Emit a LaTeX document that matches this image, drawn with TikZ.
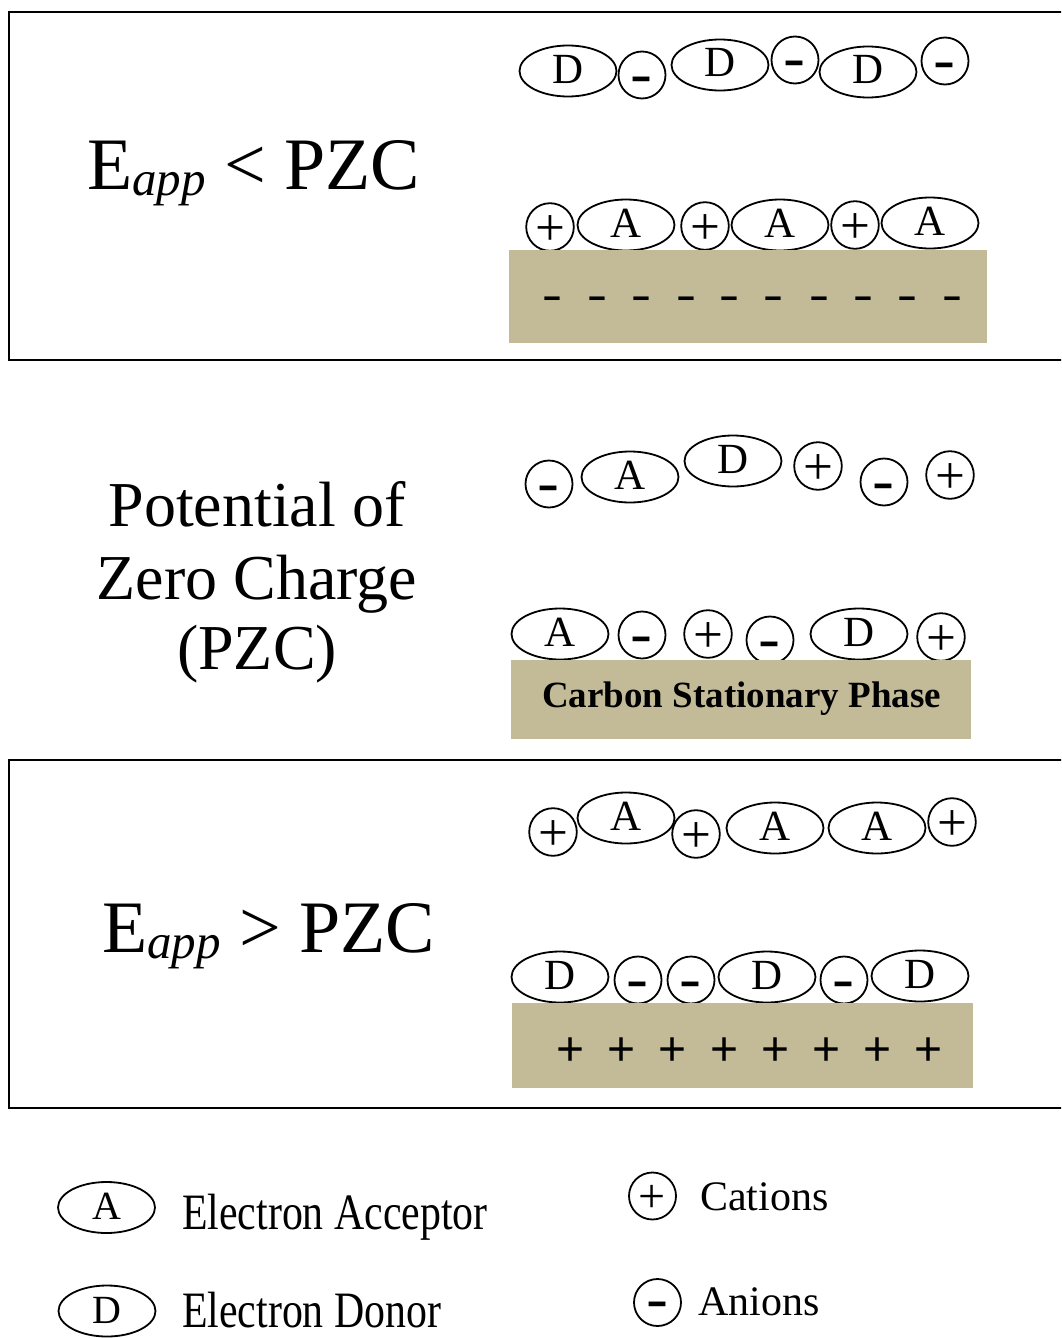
\documentclass[tikz,border=0pt]{standalone}
\usepackage{fontspec}
\setmainfont{Liberation Serif}
\newfontfamily\arialfont{Liberation Sans}
\usepackage{graphicx}
\usetikzlibrary{shapes.geometric}

\definecolor{carbon}{RGB}{195,187,152}

\newcommand\fs[1]{\fontsize{#1}{#1}\selectfont}
% charge glyphs
\newcommand\anionsign{\scalebox{1.7}[1]{\arialfont\bfseries\fs{39}-}}
\newcommand\surfminus{\scalebox{2}[1]{\arialfont\bfseries\fs{30}-}}
\newcommand\surfplus{{\arialfont\fs{48}+}}

\tikzset{
  particle/.style={draw, line width=1.8pt, inner sep=0pt},
  acc/.style={particle, ellipse, minimum width=97pt, minimum height=51pt,
    font=\fs{43}, text height=30pt, text depth=6pt},
  cation/.style={particle, circle, minimum size=47pt, font=\fs{53},
    text height=37pt, text depth=0pt},
  anion/.style={particle, circle, minimum size=47pt,
    text height=28pt, text depth=0pt},
  frame/.style={draw, line width=2.6pt},
  bed/.style={fill=carbon},
  charge/.style={inner sep=0pt, anchor=base},
  big/.style={inner sep=0pt, anchor=base west, font=\fs{74}},
  pzc/.style={inner sep=0pt, anchor=base, font=\fs{64}},
  legtext/.style={inner sep=0pt, anchor=base west},
}

\begin{document}
\begin{tikzpicture}[x=1pt,y=-1pt]
\useasboundingbox (0,0) rectangle (1061,1338);
\begin{scope}
\clip (0,0) rectangle (1061,1338);

% panel frames
\draw[frame] (9,12) rectangle (1075,360);
\draw[frame] (9,760) rectangle (1075,1108);

% ---------- E_app < PZC ----------
\node[big] (ltlabel) at (87,189) {E\raisebox{-6pt}{\fs{49}\itshape app} < PZC};

\node[acc]    (t1) at (568,71) {D};
\node[anion]  (t2) at (642,75) {\anionsign};
\node[acc]    (t3) at (720,65) {D};
\node[anion]  (t4) at (795,60) {\anionsign};
\node[acc]    (t5) at (868,72) {D};
\node[anion]  (t6) at (945,61) {\anionsign};

\node[cation] (s1) at (550,227) {+};
\node[acc]    (s2) at (626,225) {A};
\node[cation] (s3) at (705,226) {+};
\node[acc]    (s4) at (780,225) {A};
\node[cation] (s5) at (855,225) {+};
\node[acc]    (s6) at (930,223) {A};

\fill[bed] (509,250) rectangle (986.5,342.5);
\foreach \x [count=\i] in {552,597,641,686,729,773,819,863,907,952}
  \node[charge] (neg\i) at (\x,306.5) {\surfminus};

% ---------- Potential of zero charge ----------
\node[pzc] (pzc1) at (257,526) {Potential of};
\node[pzc] (pzc2) at (257,599) {Zero Charge};
\node[pzc] (pzc3) at (257,669) {(PZC)};

\node[anion]  (m1) at (549,484) {\anionsign};
\node[acc]    (m2) at (630,477) {A};
\node[acc]    (m3) at (733,461) {D};
\node[cation] (m4) at (818,466) {+};
\node[anion]  (m5) at (884,482) {\anionsign};
\node[cation] (m6) at (950,475) {+};

\node[acc]    (n1) at (560,634) {A};
\node[anion]  (n2) at (642,635) {\anionsign};
\node[cation] (n3) at (708,634) {+};
\node[anion]  (n4) at (770,640) {\anionsign};
\node[acc]    (n5) at (859,634) {D};
\node[cation] (n6) at (941,637) {+};

\fill[bed] (511,660) rectangle (971,739);
\node[inner sep=0pt, anchor=base, font=\fs{37}\bfseries] (phase) at (741.5,707) {Carbon Stationary Phase};

% ---------- E_app > PZC ----------
\node[big] (gtlabel) at (102,952) {E\raisebox{-6pt}{\fs{49}\itshape app} > PZC};

\node[cation] (u1) at (553,832) {+};
\node[acc]    (u2) at (626,818) {A};
\node[cation] (u3) at (696,834) {+};
\node[acc]    (u4) at (775,828) {A};
\node[acc]    (u5) at (877,828) {A};
\node[cation] (u6) at (952,822) {+};

\node[acc]    (v1) at (560,977) {D};
\node[anion]  (v2) at (638,980) {\anionsign};
\node[anion]  (v3) at (691,980) {\anionsign};
\node[acc]    (v4) at (767,977) {D};
\node[anion]  (v5) at (844,980) {\anionsign};
\node[acc]    (v6) at (920,976) {D};

\fill[bed] (512,1003) rectangle (972.5,1087.5);
\foreach \x [count=\i] in {571,622,673,725,776,827,878,929}
  \node[charge] (pos\i) at (\x,1065) {\surfplus};

% ---------- legend ----------
\node[acc, font=\fs{40}] (legA) at (106.5,1207.5) {A};
\node[legtext] (legAtxt) at (182,1229) {\scalebox{0.82}[1]{\fs{51}Electron Acceptor}};
\node[acc, font=\fs{40}] (legD) at (107,1311) {D};
\node[legtext] (legDtxt) at (182,1327) {\scalebox{0.82}[1]{\fs{51}Electron Donor}};
\node[cation, font=\fs{48}, text height=32pt] (legC) at (652.5,1196) {+};
\node[legtext, font=\fs{42}] (legCtxt) at (700,1210) {Cations};
\node[anion, text height=24pt] (legN) at (657.5,1302.5) {\anionsign};
\node[legtext, font=\fs{42}] (legNtxt) at (698,1315) {Anions};
\end{scope}
\end{tikzpicture}
\end{document}
